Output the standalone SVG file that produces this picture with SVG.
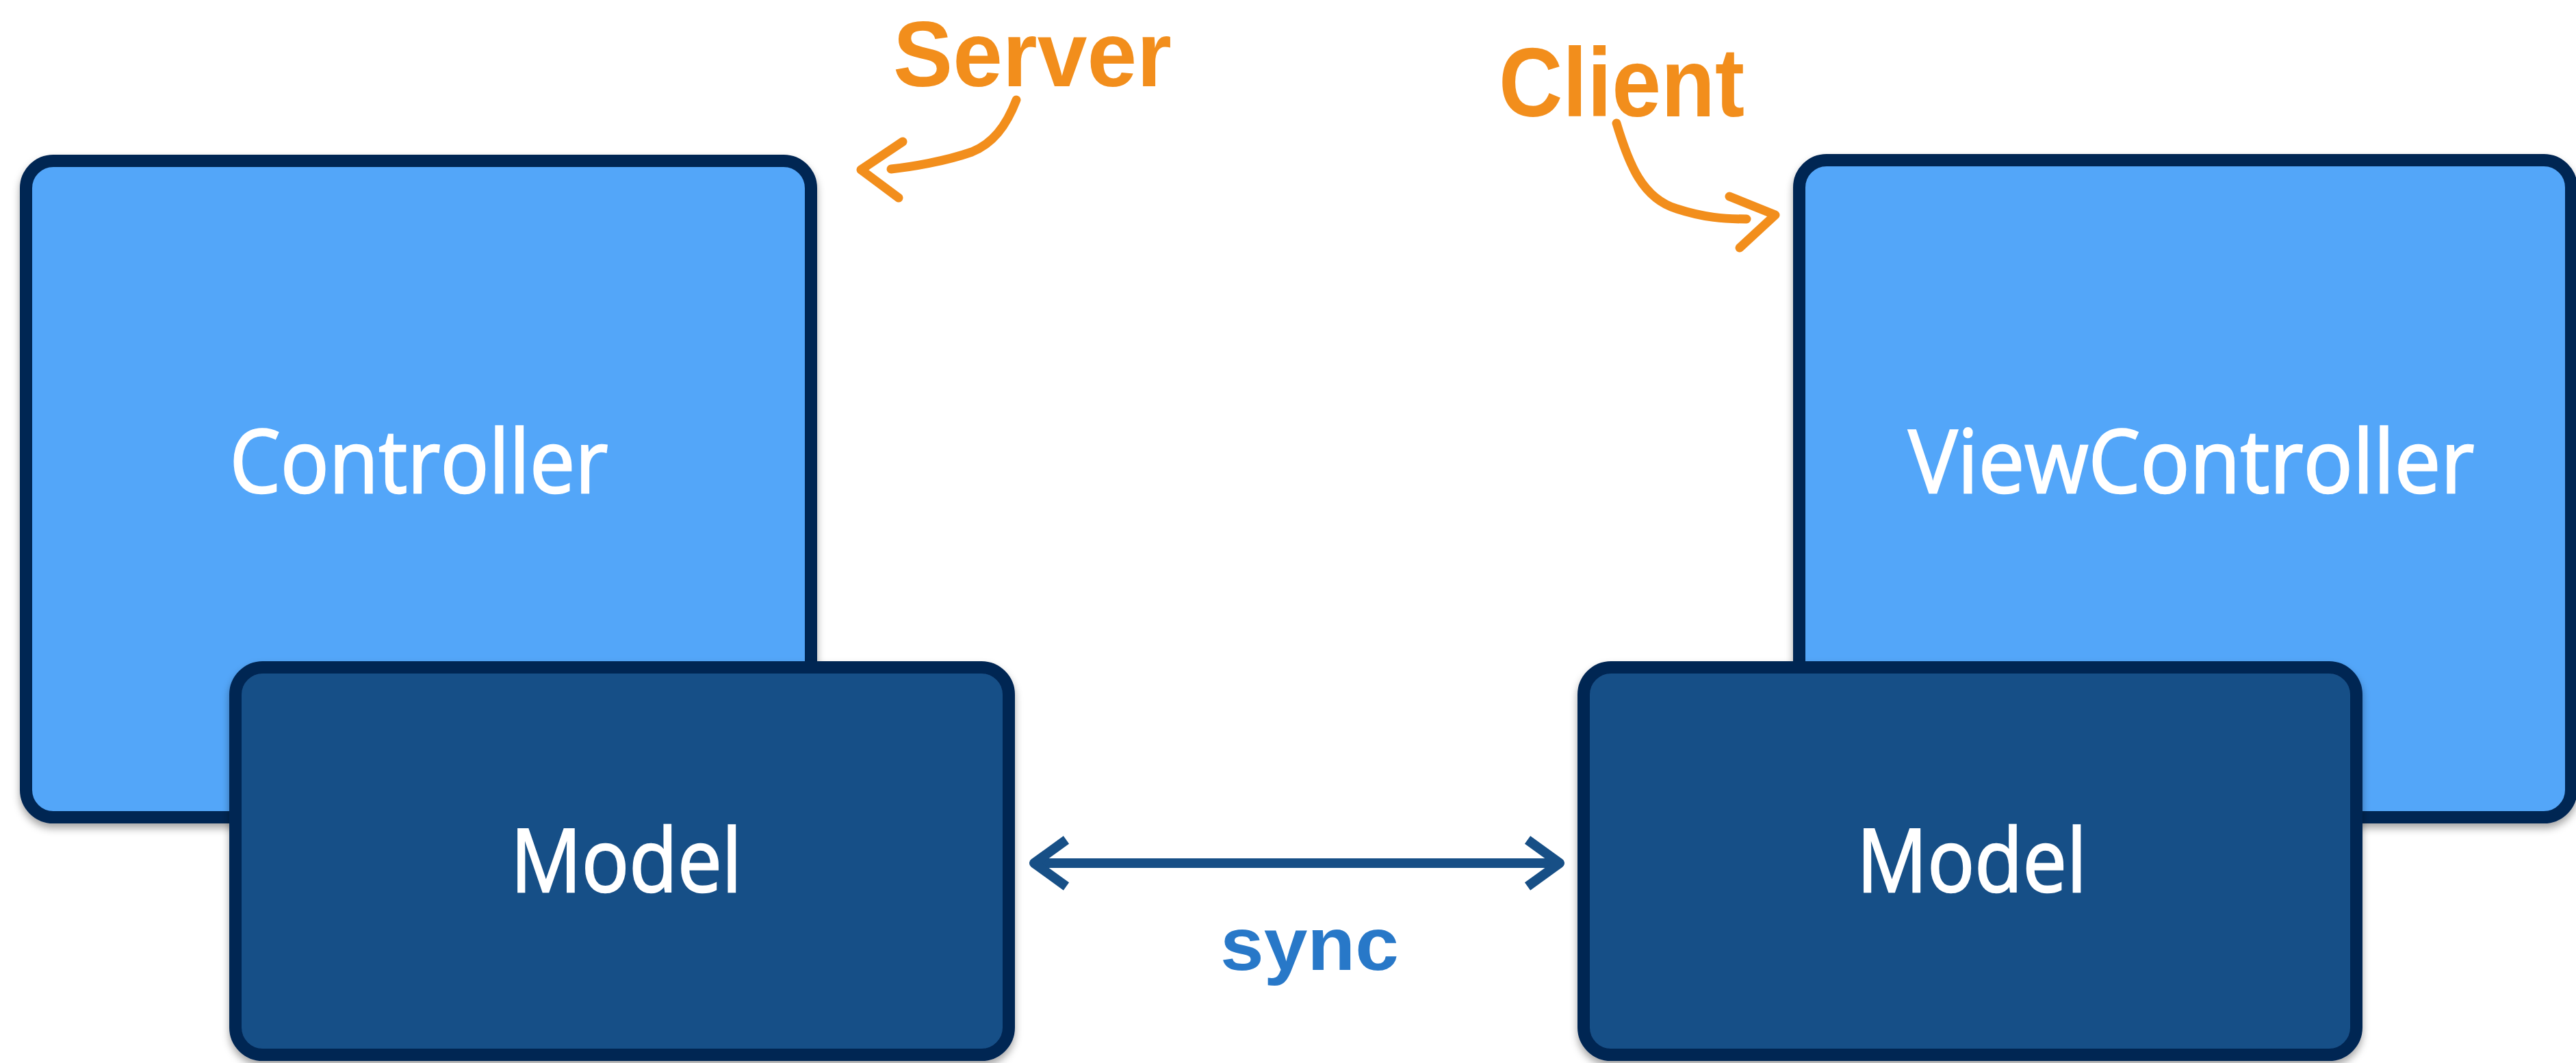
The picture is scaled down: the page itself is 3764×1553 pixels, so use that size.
<svg xmlns="http://www.w3.org/2000/svg" width="3764" height="1553" viewBox="0 0 3764 1553">
<defs>
<filter id="sh" x="-5%" y="-5%" width="110%" height="115%">
<feDropShadow dx="0" dy="7" stdDeviation="6" flood-color="#000" flood-opacity="0.35"/>
</filter>
<style>
.ctl{fill:#52a6f9;stroke:#002553;stroke-width:18}
.mdl{fill:#175087;stroke:#002553;stroke-width:18}
.lbl{font-family:"Open Sans","Noto Sans",sans-serif;font-size:128px;fill:#ffffff;stroke:#ffffff;stroke-width:2.5;text-anchor:middle}
.hand{font-family:"Liberation Sans","DejaVu Sans",sans-serif;font-weight:bold}
.orange{fill:none;stroke:#f28e1c;stroke-width:13;stroke-linecap:round;stroke-linejoin:round}
.sync{fill:none;stroke:#174f86;stroke-width:14;stroke-linejoin:round}
</style>
</defs>
<rect width="3764" height="1553" fill="#ffffff"/>
<g id="controller">
<rect class="ctl" x="38" y="235" width="1147" height="959" rx="40" filter="url(#sh)"/>
<text class="lbl" x="612" y="720" textLength="553" lengthAdjust="spacingAndGlyphs">Controller</text>
</g>
<g id="viewcontroller">
<rect class="ctl" x="2629" y="234" width="1128" height="960" rx="40" filter="url(#sh)"/>
<text class="lbl" x="3202" y="720" textLength="827" lengthAdjust="spacingAndGlyphs">ViewController</text>
</g>
<g id="model-server">
<rect class="mdl" x="344" y="975" width="1130" height="566" rx="40" filter="url(#sh)"/>
<text class="lbl" x="915" y="1303" textLength="338" lengthAdjust="spacingAndGlyphs">Model</text>
</g>
<g id="model-client">
<rect class="mdl" x="2314" y="975" width="1129" height="566" rx="40" filter="url(#sh)"/>
<text class="lbl" x="2881" y="1303" textLength="336" lengthAdjust="spacingAndGlyphs">Model</text>
</g>
<g id="connectors">
<path class="sync" d="M1510,1261 H2280"/>
<path class="sync" d="M1558,1227 L1511,1261 L1558,1295"/>
<path class="sync" d="M2232,1227 L2279,1261 L2232,1295"/>
<path class="orange" d="M1485,146 C1470,185 1450,210 1420,222 C1380,236 1330,244 1302,247"/>
<path class="orange" d="M1319,207 L1258,248 L1313,289"/>
<path class="orange" d="M2362,180 C2380,240 2400,290 2450,305 C2490,318 2520,320 2552,320"/>
<path class="orange" d="M2527,287 L2594,314 L2542,362"/>
</g>
<g id="labels">
<text class="hand" x="1305" y="126" font-size="136" fill="#f28e1c" textLength="407" lengthAdjust="spacingAndGlyphs">Server</text>
<text class="hand" x="2190" y="170" font-size="142" fill="#f28e1c" textLength="359" lengthAdjust="spacingAndGlyphs">Client</text>
<text class="hand" x="1783" y="1417" font-size="110" fill="#2878c8" textLength="261" lengthAdjust="spacingAndGlyphs">sync</text>
</g>
</svg>
